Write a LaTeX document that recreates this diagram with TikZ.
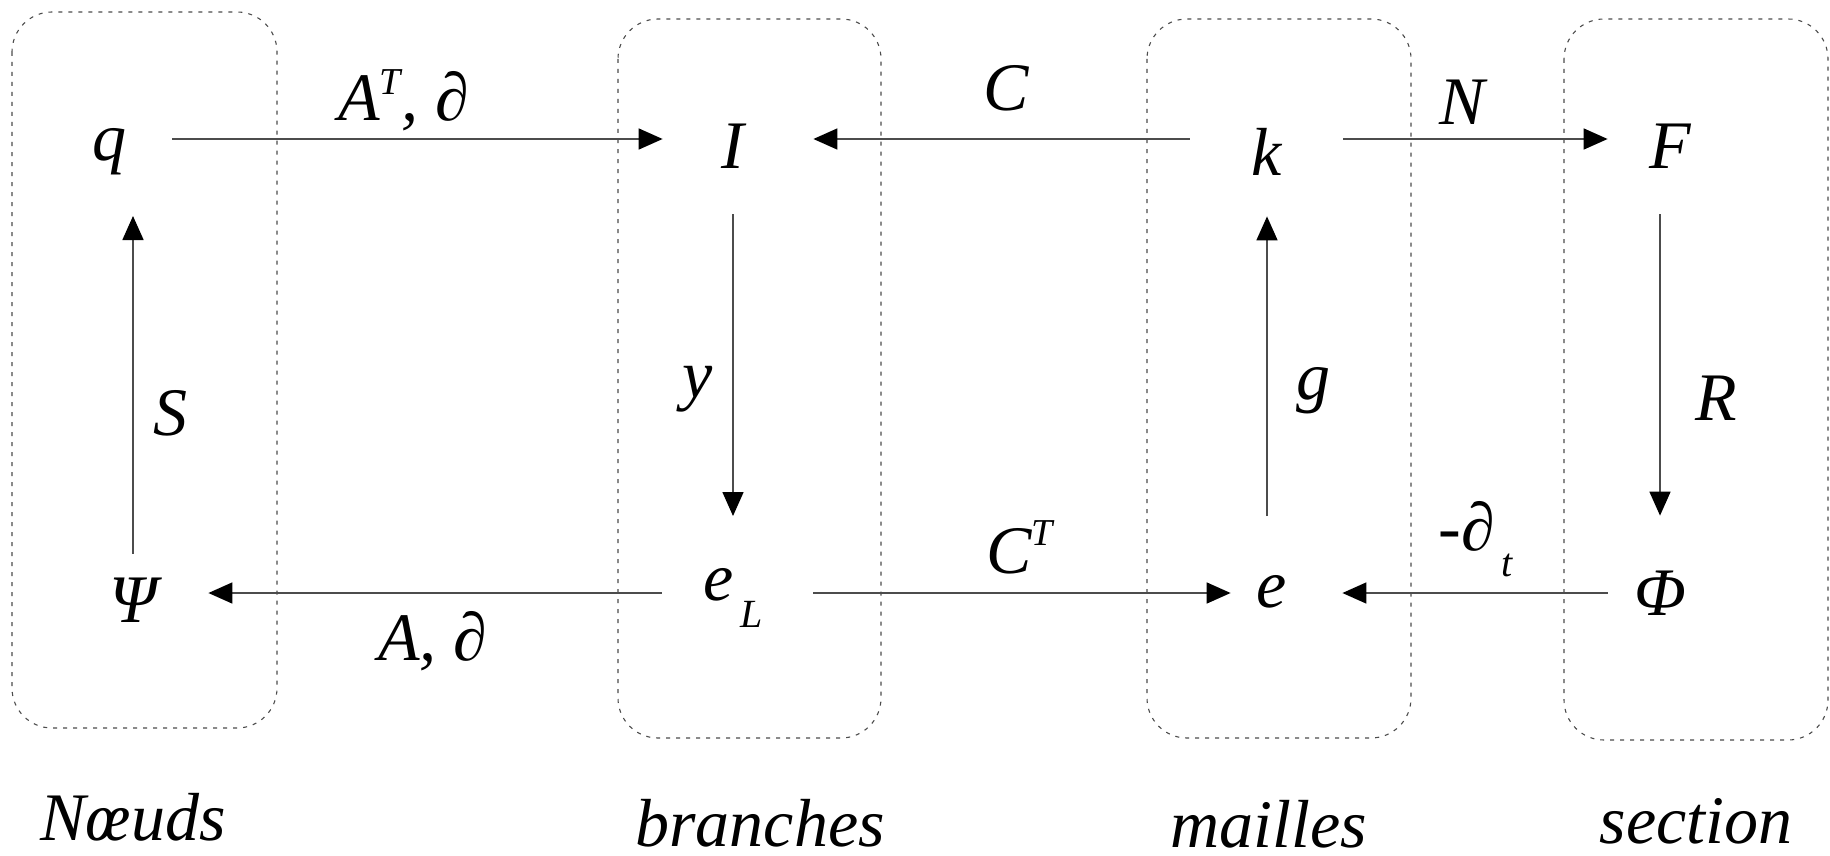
\documentclass[tikz,border=0pt]{standalone}
\usepackage{fontspec}
\setmainfont{Liberation Serif}
\usetikzlibrary{arrows.meta}
\newcommand\lowr[2]{\raisebox{#1}{#2}}
\begin{document}
\begin{tikzpicture}[x=0.5pt,y=-0.5pt,
  grp/.style={draw=black!70, line width=0.55pt, dash pattern=on 2pt off 3pt, rounded corners=20pt},
  pnt/.style={inner sep=0pt, minimum width=30pt, minimum height=30pt, text height=0pt, text depth=0pt, font=\fontsize{34}{40}\selectfont\itshape},
  lab/.style={inner sep=0pt, font=\fontsize{34}{40}\selectfont\itshape},
  ttl/.style={lab, text depth=0pt},
  arr/.style={draw=black!70, line width=0.8pt, -{Triangle[length=12pt,width=10.5pt,color=black]}}
]
\useasboundingbox (0,0) rectangle (1830,856);
% group boxes
\draw[grp] (12,12) rectangle (277,728);
\draw[grp] (618,19) rectangle (881,738);
\draw[grp] (1147,19) rectangle (1411,738);
\draw[grp] (1564,19) rectangle (1828,740);
% points
\node[pnt] (q) at (109,139) {\makebox[0pt]{\lowr{-10.5pt}{q}}};
\node[pnt] (I) at (733,139) {\makebox[0pt]{\lowr{-15pt}{I}}};
\node[pnt] (k) at (1267,139) {\makebox[0pt]{\lowr{-18.5pt}{k}}};
\node[pnt] (F) at (1670,139) {\makebox[0pt]{\lowr{-15pt}{F}}};
\node[pnt] (Psi) at (133,593) {\makebox[0pt]{\lowr{-14.5pt}{Ψ}}};
\node[pnt] (eL) at (719,593) {\makebox[0pt]{\lowr{-3.5pt}{e\rlap{\lowr{-13.5pt}{\fontsize{20}{22}\selectfont\itshape\,L}}}}};
\node[pnt] (e) at (1272,593) {\makebox[0pt]{\lowr{-7pt}{e}}};
\node[pnt] (Phi) at (1660,593) {\makebox[0pt]{\lowr{-11pt}{Φ}}};
% connectors
\draw[arr, shorten <=16.5pt, shorten >=20pt] (q) -- (I);
\draw[arr, shorten <=23.5pt, shorten >=25pt] (k) -- (I);
\draw[arr, shorten <=23pt, shorten >=16pt] (k) -- (F);
\draw[arr, shorten <=4.5pt, shorten >=38.5pt] (Psi) -- (Psi |- q);
\draw[arr, shorten <=22.5pt, shorten >=38.5pt] (I) -- (I |- eL);
\draw[arr, shorten <=38.5pt, shorten >=23.5pt] (k |- e) -- (k);
\draw[arr, shorten <=37.5pt, shorten >=23.5pt] (Phi |- F) -- (Phi);
\draw[arr, shorten <=13.5pt, shorten >=22.5pt] (eL) -- (Psi);
\draw[arr, shorten <=32pt, shorten >=5.5pt] (eL) -- (e);
\draw[arr, shorten <=11pt, shorten >=20pt] (Phi) -- (e);
% connector labels
\node[lab, anchor=base west] (lAT) at (338,120) {A\lowr{13pt}{\fontsize{19}{22}\selectfont\itshape T}, ∂};
\node[lab, anchor=base] (lC) at (1006,111) {C};
\node[lab, anchor=base] (lN) at (1462,125) {N};
\node[lab, anchor=base] (lS) at (170,435) {S};
\node[lab, anchor=base] (ly) at (698,397) {y};
\node[lab, anchor=base] (lg) at (1313,399) {g};
\node[lab, anchor=base] (lR) at (1716,420) {R};
\node[lab, anchor=base west] (lCT) at (986,573) {C\lowr{14pt}{\fontsize{19}{22}\selectfont\itshape T}};
\node[lab, anchor=base west] (ldt) at (1438,550) {-∂\lowr{-13pt}{\fontsize{20}{22}\selectfont\itshape\,t}};
\node[lab, anchor=base] (lA) at (433,660) {A, ∂};
% group titles
\node[ttl, anchor=base] (tN) at (133,840) {Nœuds};
\node[ttl, anchor=base] (tB) at (760,846) {branches};
\node[ttl, anchor=base] (tM) at (1269,847) {mailles};
\node[ttl, anchor=base] (tS) at (1696,843) {section};
\end{tikzpicture}
\end{document}
